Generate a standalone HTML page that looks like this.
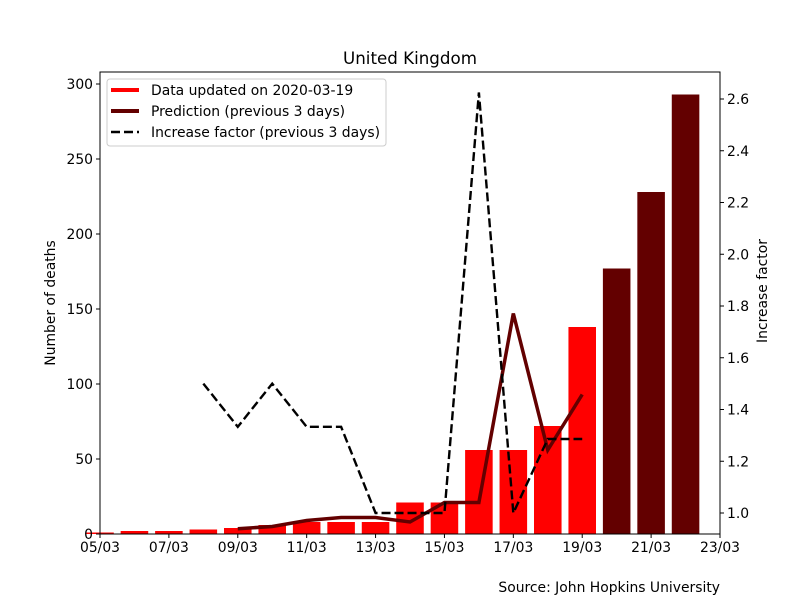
<!DOCTYPE html>
<html><head><meta charset="utf-8"><style>
body{margin:0;background:#fff;font-family:"Liberation Sans","DejaVu Sans",sans-serif}
svg text{font-family:"DejaVu Sans","Liberation Sans",sans-serif;font-size:13.9px;fill:#000}
</style></head><body>
<svg id="c" width="800" height="600"></svg>
<script>
const dayLabels=["05/03","07/03","09/03","11/03","13/03","15/03","17/03","19/03","21/03","23/03"];
const tickDays=[0,2,4,6,8,10,12,14,16,18];
const actualDays=[0,1,2,3,4,5,6,7,8,9,10,11,12,13,14];
const actualDeaths=[1,2,2,3,4,6,8,8,8,21,21,56,56,72,138];
const predBarDays=[15,16,17];
const predBarValues=[177,228,293];
const predLineDays=[4,5,6,7,8,9,10,11,12,13,14];
const predLineValues=[3.5,5,9,11,11,8,21,21,147,56,93];
const factorDays=[3,4,5,6,7,8,9,10,11,12,13,14];
const factorValues=[1.5,1.333,1.5,1.333,1.333,1.0,1.0,1.0,2.625,1.0,1.286,1.286];
const leftTicks=[0,50,100,150,200,250,300];
const rightTicks=[1.0,1.2,1.4,1.6,1.8,2.0,2.2,2.4,2.6];
const L=100,R=720,T=72,B=534;
const x=d=>L+(d)*(R-L)/18;
const y=v=>B-v*1.5;
const y2=v=>513-(v-1)*258.75;
const svg=document.getElementById('c');const NS="http://www.w3.org/2000/svg";
function mk(t,a,p){const e=document.createElementNS(NS,t);for(const k in a)e.setAttribute(k,a[k]);(p||svg).appendChild(e);return e;}
const bw=(R-L)/18*0.8;
actualDays.forEach((d,i)=>{const r=mk('rect',{x:x(d)-bw/2,y:y(actualDeaths[i]),width:bw,height:B-y(actualDeaths[i]),fill:'#ff0000'});

});
predBarDays.forEach((d,i)=>{const r=mk('rect',{x:x(d)-bw/2,y:y(predBarValues[i]),width:bw,height:B-y(predBarValues[i]),fill:'#630000'});

});
const pl=mk('polyline',{points:predLineDays.map((d,i)=>x(d)+','+y(predLineValues[i])).join(' '),fill:'none',stroke:'#630000','stroke-width':3.5});


const fl=mk('polyline',{points:factorDays.map((d,i)=>x(d)+','+y2(factorValues[i])).join(' '),fill:'none',stroke:'#000','stroke-width':2.4,'stroke-dasharray':'9,4'});


mk('rect',{x:L,y:T,width:R-L,height:B-T,fill:'none',stroke:'#000','stroke-width':1,});
tickDays.forEach((d,i)=>{mk('line',{x1:x(d),x2:x(d),y1:B,y2:B+4,stroke:'#000'});
const t=mk('text',{x:x(d),y:B+18,'text-anchor':'middle'});t.textContent=dayLabels[i];

});
leftTicks.forEach(v=>{mk('line',{x1:L-4,x2:L,y1:y(v),y2:y(v),stroke:'#000'});
const t=mk('text',{x:L-7,y:y(v)+5,'text-anchor':'end'});t.textContent=v;

});
rightTicks.forEach(v=>{mk('line',{x1:R,x2:R+4,y1:y2(v),y2:y2(v),stroke:'#000'});
const t=mk('text',{x:R+7,y:y2(v)+5});t.textContent=v.toFixed(1);

});
</script>
<svg width="800" height="600" style="position:absolute;left:0;top:0">
<text x="410" y="64" text-anchor="middle" style="font-size:16.7px">United Kingdom</text>
<text transform="translate(55,303) rotate(-90)" text-anchor="middle">Number of deaths</text>
<text transform="translate(767,291) rotate(-90)" text-anchor="middle">Increase factor</text>
<text x="720" y="592" text-anchor="end">Source: John Hopkins University</text>
<g>
<rect x="107" y="79" width="279" height="67" rx="3" fill="#fff" fill-opacity="0.8" stroke="#ccc"/>
<line x1="111" x2="139" y1="90" y2="90" stroke="#ff0000" stroke-width="4"/>
<text x="151" y="95">Data updated on 2020-03-19</text>
<line x1="111" x2="139" y1="111" y2="111" stroke="#630000" stroke-width="4"/>
<text x="151" y="116">Prediction (previous 3 days)</text>
<line x1="111" x2="139" y1="132" y2="132" stroke="#000" stroke-width="2.4" stroke-dasharray="9,4"/>
<text x="151" y="137">Increase factor (previous 3 days)</text>
</g>
</svg>
</body></html>
